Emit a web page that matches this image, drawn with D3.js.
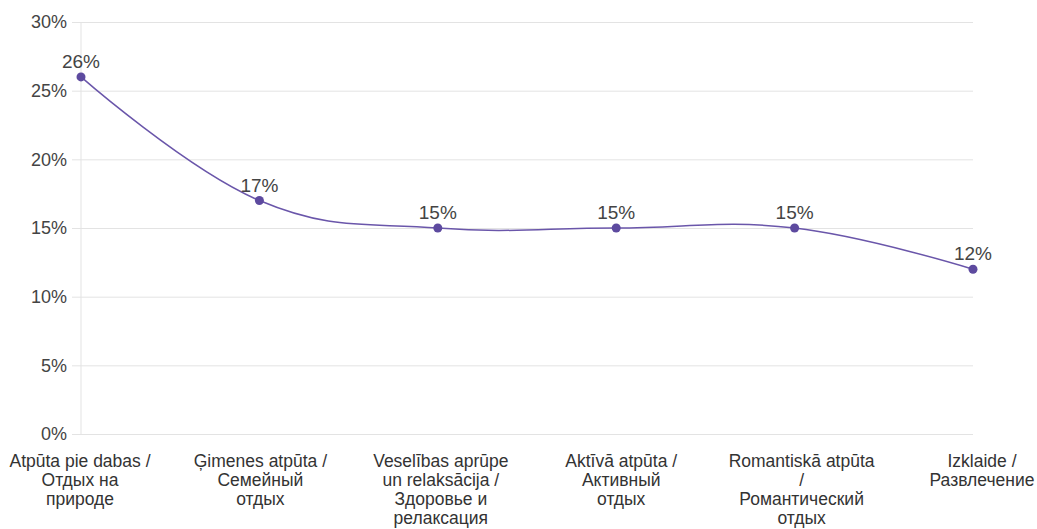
<!DOCTYPE html>
<html>
<head>
<meta charset="utf-8">
<script src="https://cdn.jsdelivr.net/npm/d3@7"></script>
<style>
  html, body { margin: 0; padding: 0; background: #fff; }
  svg { display: block; font-family: "Liberation Sans", Arial, sans-serif; }
</style>
</head>
<body>
<svg id="chart" width="1037" height="529"></svg>
<script>
// Leisure preferences, share of respondents (%)
const categories = [
  ["Atpūta pie dabas /", "Отдых на", "природе"],
  ["Ģimenes atpūta /", "Семейный", "отдых"],
  ["Veselības aprūpe", "un relaksācija /", "Здоровье и", "релаксация"],
  ["Aktīvā atpūta /", "Активный", "отдых"],
  ["Romantiskā atpūta", "/", "Романтический", "отдых"],
  ["Izklaide /", "Развлечение"]
];
const values = [26, 17, 15, 15, 15, 12];
const yTicks = [0, 5, 10, 15, 20, 25, 30];

const svg = d3.select("#chart");
const plot = { left: 81, right: 973, top: 22, bottom: 434 };

const x = d3.scalePoint()
  .domain(d3.range(categories.length))
  .range([plot.left, plot.right]);
// category captions are spread a little wider than the points
const xLabel = d3.scalePoint()
  .domain(d3.range(categories.length))
  .range([80, 982]);
const y = d3.scaleLinear().domain([0, 30]).range([plot.bottom, plot.top]);

// horizontal gridlines with tick labels
const yAxis = svg.append("g")
  .attr("transform", `translate(${plot.left},0)`)
  .call(d3.axisLeft(y).tickValues(yTicks).tickFormat(d => d + "%")
    .tickSize(-(plot.right - plot.left)).tickPadding(14));
yAxis.select(".domain").remove();
yAxis.selectAll(".tick line")
  .attr("stroke", "#e3e3e3").attr("stroke-width", 1)
  .attr("x1", -9);
yAxis.selectAll(".tick text")
  .attr("fill", "#444").attr("font-size", 18)
  .attr("font-family", "'Liberation Sans', Arial, sans-serif");

// vertical axis line
svg.append("line")
  .attr("x1", plot.left).attr("x2", plot.left)
  .attr("y1", plot.top).attr("y2", plot.bottom)
  .attr("stroke", "#e3e3e3");

// category labels, multi-line
const xAxis = svg.append("g");
categories.forEach((lines, i) => {
  const t = xAxis.append("text")
    .attr("x", xLabel(i)).attr("y", 467)
    .attr("text-anchor", "middle")
    .attr("fill", "#333").attr("font-size", 17.5);
  lines.forEach((ln, j) => {
    t.append("tspan").attr("x", xLabel(i)).attr("dy", j === 0 ? 0 : 19).text(ln);
  });
});

// smoothed line
const line = d3.line()
  .x((d, i) => x(i))
  .y(d => y(d))
  .curve(d3.curveCardinal.tension(-0.2));
svg.append("path")
  .datum(values)
  .attr("d", line)
  .attr("fill", "none")
  .attr("stroke", "#6a56aa")
  .attr("stroke-width", 1.5);

// points
svg.selectAll("circle.pt")
  .data(values)
  .join("circle")
  .attr("class", "pt")
  .attr("cx", (d, i) => x(i))
  .attr("cy", d => y(d))
  .attr("r", 4.5)
  .attr("fill", "#5d4a9f");

// value labels
svg.selectAll("text.val")
  .data(values)
  .join("text")
  .attr("class", "val")
  .attr("x", (d, i) => x(i))
  .attr("y", d => y(d) - 9)
  .attr("text-anchor", "middle")
  .attr("fill", "#444")
  .attr("font-size", 19)
  .text(d => d + "%");
</script>
</body>
</html>
